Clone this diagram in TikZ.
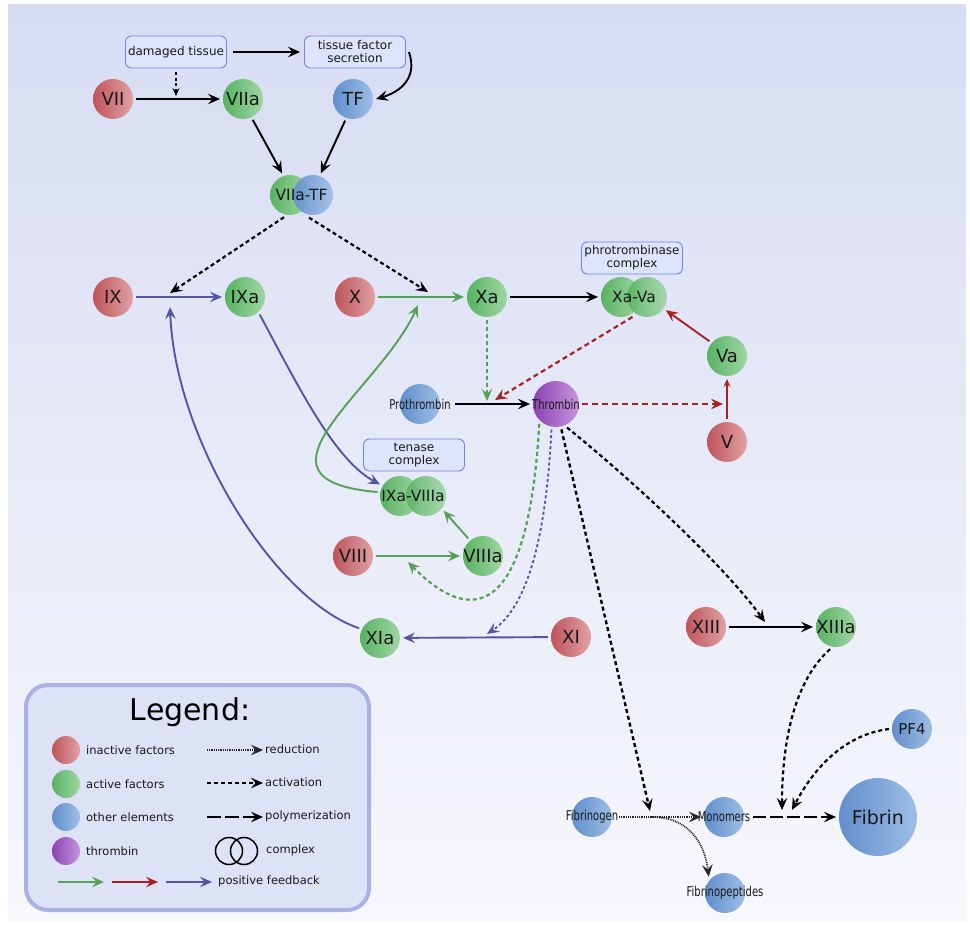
\documentclass[tikz,border=0pt]{standalone}
\usepackage{fontspec}
\usepackage{graphicx}
\setmainfont{DejaVu Sans}
\usetikzlibrary{arrows.meta,calc}
\definecolor{bgT}{RGB}{215,220,243}
\definecolor{bgM}{RGB}{226,230,247}
\definecolor{bgB}{RGB}{247,248,252}
\definecolor{rA}{RGB}{190,84,90}
\definecolor{rB}{RGB}{224,162,165}
\definecolor{gA}{RGB}{88,178,98}
\definecolor{gB}{RGB}{160,214,164}
\definecolor{bA}{RGB}{98,142,204}
\definecolor{bB}{RGB}{158,190,230}
\definecolor{pA}{RGB}{140,66,180}
\definecolor{pB}{RGB}{198,150,220}
\definecolor{aG}{RGB}{88,160,88}
\definecolor{aR}{RGB}{165,35,35}
\definecolor{aB}{RGB}{85,85,165}
\definecolor{boxF}{RGB}{222,228,252}
\definecolor{boxD}{RGB}{112,132,226}
\definecolor{legF}{RGB}{221,226,246}
\definecolor{legD}{RGB}{168,178,230}
\definecolor{txt}{RGB}{25,25,25}
\newcommand\cnd[1]{\scalebox{0.74}[1]{#1}}
\begin{document}
\begin{tikzpicture}[x=1pt,y=-1pt,
  tipA/.style={-{Stealth[length=12pt,width=10.5pt,inset=4.5pt]}},
  tipS/.style={-{Stealth[length=8pt,width=7pt,inset=3pt]}},
  ln/.style={tipA,line width=1.9pt},
  dsh/.style={ln,line width=2.2pt,dash pattern=on 4pt off 3pt},
  rdc/.style={ln,line width=2pt,dash pattern=on 0.9pt off 0.9pt,black!85},
  ply/.style={ln,dash pattern=on 13pt off 4pt},
  fac/.style={circle,minimum size=40pt,inner sep=0pt,outer sep=3pt,text=txt,
    font=\fontsize{18}{20}\selectfont,
    execute at begin node={\hbox to 0pt\bgroup\hss},
    execute at end node={\hss\egroup}},
  inact/.style={fac,left color=rA,right color=rB},
  act/.style={fac,left color=gA,right color=gB},
  oth/.style={fac,left color=bA,right color=bB},
  thr/.style={fac,left color=pA,right color=pB,minimum size=46pt},
  sml/.style={font=\fontsize{13.5}{15}\selectfont},
  lbl/.style={inner sep=0pt,text=txt,font=\fontsize{15.5}{17}\selectfont},
  info/.style={draw=boxD,fill=boxF,rounded corners=6pt,minimum width=101pt,
    minimum height=32pt,align=center,text=txt,font=\fontsize{12}{13}\selectfont,
    line width=0.9pt,inner sep=2pt},
  lt/.style={anchor=west,text=txt,font=\fontsize{11.5}{13}\selectfont,inner sep=2pt}]
\useasboundingbox (0,0) rectangle (970,925);
\shade[top color=bgT,middle color=bgM,bottom color=bgB] (8,5) rectangle (966,921);

% nodes
\node[info] (dt) at (176,52) {damaged tissue};
\node[info] (tfs) at (355,52) {tissue factor\\secretion};
\node[inact] (VII) at (113,99) {VII};
\node[act] (VIIa) at (243,99) {VIIa};
\node[oth] (TF) at (353,99) {TF};
\node[act] (c7a) at (290,195) {};
\node[oth,opacity=0.9] (c7b) at (313,195) {};
\node[lbl] (t7) at (301.5,195) {VIIa-TF};

\node[inact] (IX) at (113,297) {IX};
\node[act] (IXa) at (245,297) {IXa};
\node[inact] (X) at (355,297) {X};
\node[act] (Xa) at (487,297) {Xa};
\node[act] (c5a) at (621,297) {};
\node[act,opacity=0.88] (c5b) at (647,297) {};
\node[lbl] (t5) at (634,297) {Xa-Va};
\node[info] (ptc) at (632,258) {phrotrombinase\\complex};
\node[act] (Va) at (727,356) {Va};
\node[inact] (V) at (727,442) {V};

\node[oth,sml] (Pro) at (420,404) {\cnd{Prothrombin}};
\node[thr,sml] (Thr) at (556,404) {\cnd{Thrombin}};
\node[info] (ten) at (414,455) {tenase\\complex};
\node[act] (c9a) at (400,496) {};
\node[act,opacity=0.88] (c9b) at (426,496) {};
\node[lbl] (t9) at (413,496) {IXa-VIIIa};
\node[inact] (VIII) at (353,556) {VIII};
\node[act] (VIIIa) at (483,556) {VIIIa};
\node[act] (XIa) at (380,638) {XIa};
\node[inact] (XI) at (571,637) {XI};
\node[inact] (XIII) at (706,627) {XIII};
\node[act] (XIIIa) at (836,627) {XIIIa};
\node[oth,font=\fontsize{15}{17}\selectfont] (PF4) at (912,729) {PF4};
\node[oth,sml] (Fbg) at (592,817) {\cnd{Fibrinogen}};
\node[oth,sml] (Mon) at (724,817) {\cnd{Monomers}};
\node[oth,minimum size=78pt,font=\fontsize{19}{21}\selectfont] (Fib) at (878,817) {Fibrin};
\node[oth,sml] (Fpep) at (725,893) {\cnd{Fibrinopeptides}};

% connectors
\draw[ln,shorten <=6.5pt,shorten >=4pt] (dt.east) -- (tfs.west);
\draw[ln] ([xshift=3pt]tfs.east) .. controls (418,78) and (400,92) .. (TF.east);
\coordinate (m1) at (176,96);
\draw[tipS,line width=1.5pt,dash pattern=on 3pt off 2.5pt,shorten <=4pt] (dt.south) -- (m1);
\draw[ln] (VII) -- (VIIa);
\draw[ln] (VIIa.-65) -- (c7a.110);
\draw[ln] (TF.-110) -- (c7b.70);
\coordinate (m2) at (170,293);
\coordinate (m3) at (428,292);
\draw[dsh] (c7a.-105) -- (m2);
\draw[dsh] (c7b.-100) -- (m3);
\draw[ln,aB] (IX) -- (IXa);
\draw[ln,aG] (X) -- (Xa);
\draw[ln] (Xa) -- (c5a);
\draw[ln,aR] (Va.140) -- (c5b.-35);
\draw[tipS,aR,line width=1.2pt] (V) -- (Va);
\coordinate (m4) at (723,404);
\draw[dsh,aR,dash pattern=on 6pt off 4pt] (Thr) -- (m4);
\coordinate (m5) at (495,400);
\draw[dsh,aR,dash pattern=on 5pt off 3.5pt] (c5a.-60) -- (m5);
\coordinate (m6) at (487,401);
\draw[dsh,aG] (Xa) -- (m6);
\draw[ln,shorten <=12pt] (Pro) -- (Thr);
\draw[ln,aB] (IXa.-50) .. controls (300,390) and (335,460) .. (c9a.150);
\coordinate (m7) at (418,305);
\draw[ln,aG] (c9a.170) .. controls (235,480) and (380,390) .. (m7);
\draw[ln,aG] (VIIIa.130) -- (c9b.-40);
\draw[ln,aG] (VIII) -- (VIIIa);
\coordinate (m8) at (408,562);
\draw[dsh,aG] (Thr.-130) .. controls (527,640) and (460,615) .. (m8);
\coordinate (m9) at (487,634);
\draw[dsh,aB,line width=1.8pt,dash pattern=on 3pt off 2.5pt] (Thr.-100) .. controls (545,560) and (520,612) .. (m9);
\draw[ln,aB] (XI) -- (XIa);
\coordinate (m10) at (170,307);
\draw[ln,aB] (XIa.155) .. controls (275,600) and (175,440) .. (m10);
\coordinate (m11) at (650,811);
\draw[dsh,line width=2.4pt] (Thr.-78) -- (m11);
\coordinate (m12) at (765,622);
\draw[dsh] (Thr.-65) .. controls (620,470) and (720,560) .. (m12);
\draw[ln] (XIII) -- (XIIIa);
\coordinate (m13) at (782,810);
\draw[dsh] (XIIIa.-105) .. controls (795,680) and (782,740) .. (m13);
\coordinate (m14) at (792,810);
\draw[dsh] (PF4.west) .. controls (840,735) and (810,775) .. (m14);
\draw[rdc,shorten <=4pt] (Fbg) -- (Mon);
\coordinate (m15) at (652,817);
\draw[rdc,line width=1.7pt] (m15) .. controls (690,817) and (705,845) .. (Fpep.135);
\draw[ply,shorten <=6pt] (Mon) -- (Fib);

% legend
\node[draw=legD,fill=legF,line width=4pt,rounded corners=22pt,minimum width=343pt,minimum height=225pt] (leg) at (197.5,797.5) {};
\node[text=black,font=\fontsize{30}{32}\selectfont] (legT) at (190,712) {Legend:};
\node[inact,minimum size=28pt] (L1) at (66,750) {};
\node[act,minimum size=28pt] (L2) at (66,784) {};
\node[oth,minimum size=28pt] (L3) at (66,817) {};
\node[thr,minimum size=28pt] (L4) at (66,851) {};
\node[lt] (L1t) at (84,750) {inactive factors};
\node[lt] (L2t) at (84,784) {active factors};
\node[lt] (L3t) at (84,817) {other elements};
\node[lt] (L4t) at (84,851) {thrombin};
\coordinate (r1s) at (207,750); \coordinate (r1e) at (263,750);
\coordinate (r2s) at (207,783); \coordinate (r2e) at (263,783);
\coordinate (r3s) at (207,817); \coordinate (r3e) at (263,817);
\draw[rdc] (r1s) -- (r1e);
\draw[dsh] (r2s) -- (r2e);
\draw[ln,dash pattern=on 14pt off 4pt] (r3s) -- (r3e);
\node[lt] (R1t) at (263,749) {reduction};
\node[lt] (R2t) at (263,782) {activation};
\node[lt] (R3t) at (263,816) {polymerization};
\node[circle,draw=black,line width=1.5pt,minimum size=27pt,inner sep=0pt] (cx1) at (229,851) {};
\node[circle,draw=black,line width=1.5pt,minimum size=27pt,inner sep=0pt] (cx2) at (244,851) {};
\node[lt] (R4t) at (264,850) {complex};
\coordinate (f1s) at (58,882); \coordinate (f1e) at (104,882);
\coordinate (f2s) at (112,882); \coordinate (f2e) at (158,882);
\coordinate (f3s) at (166,882); \coordinate (f3e) at (212,882);
\draw[ln,aG] (f1s) -- (f1e);
\draw[ln,aR] (f2s) -- (f2e);
\draw[ln,aB] (f3s) -- (f3e);
\node[lt] (R5t) at (216,881) {positive feedback};
\end{tikzpicture}
\end{document}
